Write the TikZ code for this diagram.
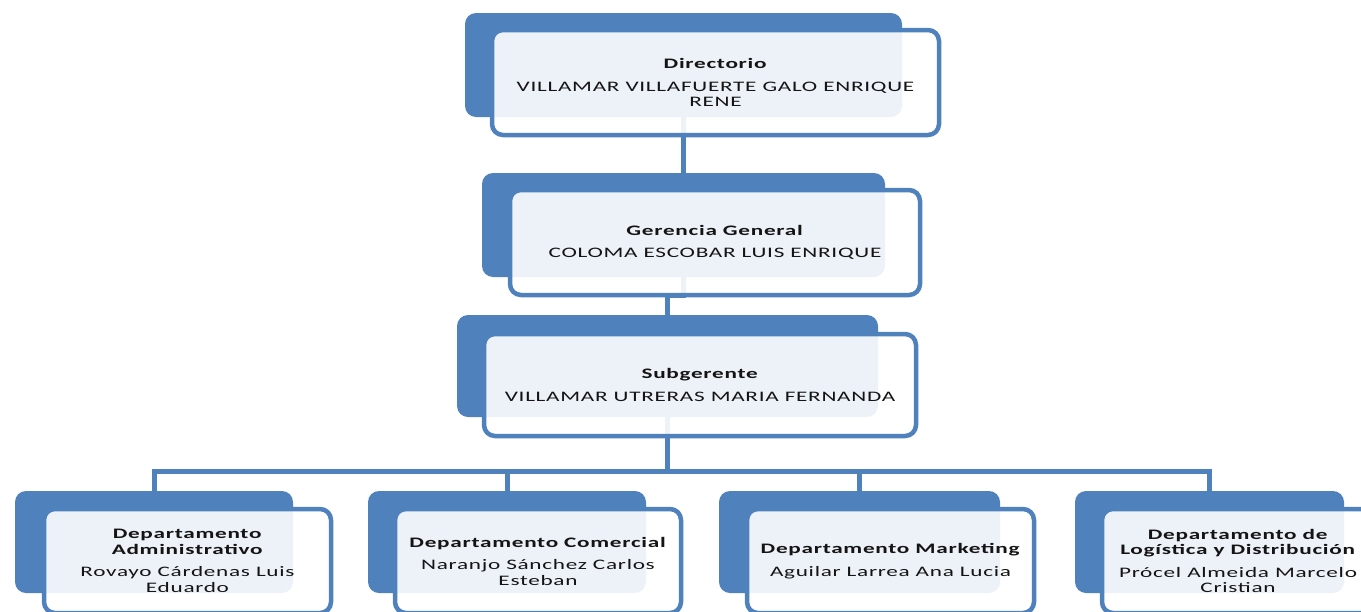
\documentclass[tikz,border=0pt]{standalone}
\usepackage{fontspec}
\setmainfont{Carlito}[FakeStretch=1.6,LetterSpace=5]
\usetikzlibrary{backgrounds}
\definecolor{orgblue}{HTML}{4F81BD}
\definecolor{inktext}{HTML}{141414}
\begin{document}
\begin{tikzpicture}[x=1pt,y=-1pt,
  backbox/.style={rectangle, rounded corners=11pt, fill=orgblue, draw=none, inner sep=0pt},
  frontbox/.style={rectangle, rounded corners=11pt, draw=orgblue, line width=4.5pt,
    fill=white, fill opacity=0.9, text opacity=1, text=inktext, align=center,
    inner sep=0pt, font=\fontsize{14.5}{15.5}\selectfont},
  conn/.style={draw=orgblue, line width=5pt}]
\useasboundingbox (0,0) rectangle (1361,611);

% rear tabs
\node[backbox, minimum width=437pt, minimum height=104pt] (dirb) at (683.5,65) {};
\node[backbox, minimum width=403pt, minimum height=104pt] (gerb) at (683.5,225) {};
\node[backbox, minimum width=421pt, minimum height=102pt] (subb) at (667.5,366) {};
\node[backbox, minimum width=278pt, minimum height=102pt] (admb) at (154,542) {};
\node[backbox, minimum width=278pt, minimum height=102pt] (comb) at (507,542) {};
\node[backbox, minimum width=281pt, minimum height=102pt] (mktb) at (859.5,542) {};
\node[backbox, minimum width=269pt, minimum height=102pt] (logb) at (1209.5,542) {};

% front cards
\node[frontbox, minimum width=447pt, minimum height=105pt] (dir) at (715.5,82.5)
  {\textbf{Directorio}\\[7pt]VILLAMAR VILLAFUERTE GALO ENRIQUE\\RENE};
\node[frontbox, minimum width=410pt, minimum height=105pt] (ger) at (715,242.5)
  {\textbf{Gerencia General}\\[7pt]COLOMA ESCOBAR LUIS ENRIQUE};
\node[frontbox, minimum width=432pt, minimum height=102pt] (sub) at (700,385)
  {\textbf{Subgerente}\\[7pt]VILLAMAR UTRERAS MARIA FERNANDA};
\node[frontbox, minimum width=287pt, minimum height=104pt] (adm) at (187.5,561)
  {\textbf{Departamento}\\\textbf{Administrativo}\\[7pt]Rovayo Cárdenas Luis\\Eduardo};
\node[frontbox, minimum width=286pt, minimum height=104pt] (com) at (538,561)
  {\textbf{Departamento Comercial}\\[7pt]Naranjo Sánchez Carlos\\Esteban};
\node[frontbox, minimum width=287pt, minimum height=104pt] (mkt) at (890.5,561)
  {\textbf{Departamento Marketing}\\[7pt]Aguilar Larrea Ana Lucia};
\node[frontbox, minimum width=272pt, minimum height=104pt] (log) at (1238,561)
  {\textbf{Departamento de}\\\textbf{Logística y Distribución}\\[7pt]Prócel Almeida Marcelo\\Cristian};

\coordinate (bus) at (0,471);

% reporting lines, kept under the cards
\begin{scope}[on background layer]
  \draw[conn] (dirb.south) -- (gerb.north);
  \draw[conn] (gerb.south) -- ++(0,18) -| (subb.north);
  \draw[conn] (subb.south) -- (subb.south |- bus) -| (admb.north);
  \draw[conn] (subb.south) -- (subb.south |- bus) -| (comb.north);
  \draw[conn] (subb.south) -- (subb.south |- bus) -| (mktb.north);
  \draw[conn] (subb.south) -- (subb.south |- bus) -| (logb.north);
\end{scope}
\end{tikzpicture}
\end{document}
